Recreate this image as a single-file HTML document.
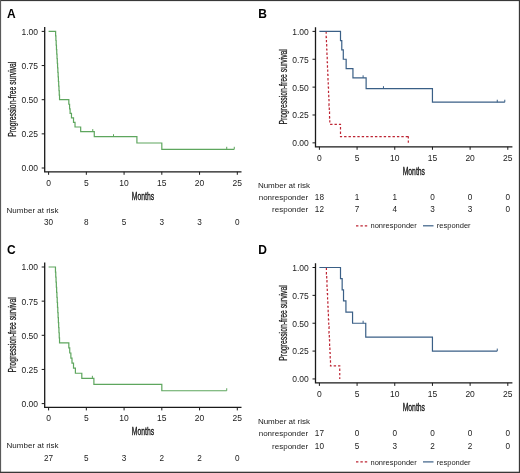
<!DOCTYPE html>
<html><head><meta charset="utf-8"><style>
html,body{margin:0;padding:0;background:#fff;}
body{width:520px;height:473px;overflow:hidden;}
svg{display:block;font-family:"Liberation Sans", sans-serif;will-change:transform;}
</style></head><body>
<svg width="520" height="473" viewBox="0 0 520 473">
<rect x="0" y="0" width="520" height="473" fill="#fff"/>
<text x="6.9" y="17.6" font-size="12" font-weight="bold" fill="#000">A</text>
<path d="M44.7,27 V171.8 H241.5" fill="none" stroke="#1a1a1a" stroke-width="1.3"/>
<line x1="41.7" y1="31.4" x2="44.7" y2="31.4" stroke="#1a1a1a" stroke-width="1"/>
<text x="38" y="34.8" font-size="8.5" text-anchor="end" fill="#222">1.00</text>
<line x1="41.7" y1="65.55" x2="44.7" y2="65.55" stroke="#1a1a1a" stroke-width="1"/>
<text x="38" y="68.95" font-size="8.5" text-anchor="end" fill="#222">0.75</text>
<line x1="41.7" y1="99.7" x2="44.7" y2="99.7" stroke="#1a1a1a" stroke-width="1"/>
<text x="38" y="103.1" font-size="8.5" text-anchor="end" fill="#222">0.50</text>
<line x1="41.7" y1="133.85" x2="44.7" y2="133.85" stroke="#1a1a1a" stroke-width="1"/>
<text x="38" y="137.25" font-size="8.5" text-anchor="end" fill="#222">0.25</text>
<line x1="41.7" y1="168" x2="44.7" y2="168" stroke="#1a1a1a" stroke-width="1"/>
<text x="38" y="171.4" font-size="8.5" text-anchor="end" fill="#222">0.00</text>
<line x1="48.6" y1="171.8" x2="48.6" y2="174.8" stroke="#1a1a1a" stroke-width="1"/>
<text x="48.6" y="185.5" font-size="8.5" text-anchor="middle" fill="#222">0</text>
<line x1="86.34" y1="171.8" x2="86.34" y2="174.8" stroke="#1a1a1a" stroke-width="1"/>
<text x="86.34" y="185.5" font-size="8.5" text-anchor="middle" fill="#222">5</text>
<line x1="124.08" y1="171.8" x2="124.08" y2="174.8" stroke="#1a1a1a" stroke-width="1"/>
<text x="124.08" y="185.5" font-size="8.5" text-anchor="middle" fill="#222">10</text>
<line x1="161.82" y1="171.8" x2="161.82" y2="174.8" stroke="#1a1a1a" stroke-width="1"/>
<text x="161.82" y="185.5" font-size="8.5" text-anchor="middle" fill="#222">15</text>
<line x1="199.56" y1="171.8" x2="199.56" y2="174.8" stroke="#1a1a1a" stroke-width="1"/>
<text x="199.56" y="185.5" font-size="8.5" text-anchor="middle" fill="#222">20</text>
<line x1="237.3" y1="171.8" x2="237.3" y2="174.8" stroke="#1a1a1a" stroke-width="1"/>
<text x="237.3" y="185.5" font-size="8.5" text-anchor="middle" fill="#222">25</text>
<text transform="translate(143,199.8) scale(0.68,1)" font-size="10" text-anchor="middle" fill="#1a1a1a" stroke="#1a1a1a" stroke-width="0.35">Months</text>
<text transform="translate(15.7,99.25) rotate(-90) scale(0.68,1)" font-size="10" text-anchor="middle" fill="#1a1a1a" stroke="#1a1a1a" stroke-width="0.25">Progression-free survival</text>
<path d="M48.6,31.4 H55.62 V35.95 H55.9 V40.51 H56.18 V45.06 H56.46 V49.61 H56.74 V54.17 H57.02 V58.72 H57.3 V63.27 H57.58 V67.83 H57.86 V72.38 H58.14 V76.93 H58.42 V81.49 H58.7 V86.04 H58.98 V90.59 H59.26 V95.15 H59.54 V99.7 H68.83 V104.25 H69.58 V108.81 H70.11 V113.36 H71.47 V117.91 H73.51 V122.47 H75.02 V127.02 H80.68 V131.57 H94.27 V136.72 H136.91 V143 H161.82 V149.29 H234.28" fill="none" stroke="#5ea65e" stroke-width="1.2"/>
<line x1="92.76" y1="131.57" x2="92.76" y2="129.07" stroke="#5ea65e" stroke-width="1"/><line x1="113.51" y1="136.72" x2="113.51" y2="134.22" stroke="#5ea65e" stroke-width="1"/><line x1="226.73" y1="149.29" x2="226.73" y2="146.79" stroke="#5ea65e" stroke-width="1"/><line x1="234.28" y1="149.29" x2="234.28" y2="146.79" stroke="#5ea65e" stroke-width="1"/>
<text x="6.6" y="212.5" font-size="8" fill="#222">Number at risk</text>
<text x="48.6" y="225.3" font-size="8.2" text-anchor="middle" fill="#222">30</text>
<text x="86.34" y="225.3" font-size="8.2" text-anchor="middle" fill="#222">8</text>
<text x="124.08" y="225.3" font-size="8.2" text-anchor="middle" fill="#222">5</text>
<text x="161.82" y="225.3" font-size="8.2" text-anchor="middle" fill="#222">3</text>
<text x="199.56" y="225.3" font-size="8.2" text-anchor="middle" fill="#222">3</text>
<text x="237.3" y="225.3" font-size="8.2" text-anchor="middle" fill="#222">0</text>
<text x="258.3" y="17.5" font-size="12" font-weight="bold" fill="#000">B</text>
<path d="M315.5,27.2 V146.8 H512.4" fill="none" stroke="#1a1a1a" stroke-width="1.3"/>
<line x1="312.5" y1="31.4" x2="315.5" y2="31.4" stroke="#1a1a1a" stroke-width="1"/>
<text x="308.8" y="34.8" font-size="8.5" text-anchor="end" fill="#222">1.00</text>
<line x1="312.5" y1="59.26" x2="315.5" y2="59.26" stroke="#1a1a1a" stroke-width="1"/>
<text x="308.8" y="62.66" font-size="8.5" text-anchor="end" fill="#222">0.75</text>
<line x1="312.5" y1="87.12" x2="315.5" y2="87.12" stroke="#1a1a1a" stroke-width="1"/>
<text x="308.8" y="90.53" font-size="8.5" text-anchor="end" fill="#222">0.50</text>
<line x1="312.5" y1="114.99" x2="315.5" y2="114.99" stroke="#1a1a1a" stroke-width="1"/>
<text x="308.8" y="118.39" font-size="8.5" text-anchor="end" fill="#222">0.25</text>
<line x1="312.5" y1="142.85" x2="315.5" y2="142.85" stroke="#1a1a1a" stroke-width="1"/>
<text x="308.8" y="146.25" font-size="8.5" text-anchor="end" fill="#222">0.00</text>
<line x1="319.4" y1="146.8" x2="319.4" y2="149.8" stroke="#1a1a1a" stroke-width="1"/>
<text x="319.4" y="161" font-size="8.5" text-anchor="middle" fill="#222">0</text>
<line x1="357.08" y1="146.8" x2="357.08" y2="149.8" stroke="#1a1a1a" stroke-width="1"/>
<text x="357.08" y="161" font-size="8.5" text-anchor="middle" fill="#222">5</text>
<line x1="394.76" y1="146.8" x2="394.76" y2="149.8" stroke="#1a1a1a" stroke-width="1"/>
<text x="394.76" y="161" font-size="8.5" text-anchor="middle" fill="#222">10</text>
<line x1="432.44" y1="146.8" x2="432.44" y2="149.8" stroke="#1a1a1a" stroke-width="1"/>
<text x="432.44" y="161" font-size="8.5" text-anchor="middle" fill="#222">15</text>
<line x1="470.12" y1="146.8" x2="470.12" y2="149.8" stroke="#1a1a1a" stroke-width="1"/>
<text x="470.12" y="161" font-size="8.5" text-anchor="middle" fill="#222">20</text>
<line x1="507.8" y1="146.8" x2="507.8" y2="149.8" stroke="#1a1a1a" stroke-width="1"/>
<text x="507.8" y="161" font-size="8.5" text-anchor="middle" fill="#222">25</text>
<text transform="translate(413.8,174.6) scale(0.68,1)" font-size="10" text-anchor="middle" fill="#1a1a1a" stroke="#1a1a1a" stroke-width="0.35">Months</text>
<text transform="translate(286.7,86.85) rotate(-90) scale(0.684,1)" font-size="10" text-anchor="middle" fill="#1a1a1a" stroke="#1a1a1a" stroke-width="0.25">Progression-free survival</text>
<path d="M326.18,31.4 H326.18 V37.59 H326.44 V43.78 H326.7 V49.97 H326.96 V56.17 H327.22 V62.36 H327.47 V68.55 H327.73 V74.74 H327.99 V80.93 H328.25 V87.12 H328.51 V93.32 H328.77 V99.51 H329.02 V105.7 H329.28 V111.89 H329.54 V118.08 H329.8 V124.28 H340.5 V136.66 H408.32" fill="none" stroke="#bd2433" stroke-width="1.2" stroke-dasharray="2.4,2"/>
<line x1="408.32" y1="136.36" x2="408.32" y2="143.16" stroke="#bd2433" stroke-width="1.2" stroke-dasharray="2.2,2"/>
<path d="M319.4,31.4 H340.5 V40.69 H341.78 V49.97 H343.29 V59.26 H346.15 V68.55 H352.94 V77.84 H366.12 V88.69 H432.44 V102.22 H504.79" fill="none" stroke="#3a5f86" stroke-width="1.2"/>
<line x1="363.11" y1="77.84" x2="363.11" y2="75.34" stroke="#3a5f86" stroke-width="1"/><line x1="383.46" y1="88.69" x2="383.46" y2="86.19" stroke="#3a5f86" stroke-width="1"/><line x1="497.25" y1="102.22" x2="497.25" y2="99.72" stroke="#3a5f86" stroke-width="1"/><line x1="504.79" y1="102.22" x2="504.79" y2="99.72" stroke="#3a5f86" stroke-width="1"/>
<text x="257.9" y="187.6" font-size="8" fill="#222">Number at risk</text>
<text x="308.1" y="199.9" font-size="8" text-anchor="end" fill="#222">nonresponder</text>
<text x="319.4" y="199.9" font-size="8.2" text-anchor="middle" fill="#222">18</text>
<text x="357.08" y="199.9" font-size="8.2" text-anchor="middle" fill="#222">1</text>
<text x="394.76" y="199.9" font-size="8.2" text-anchor="middle" fill="#222">1</text>
<text x="432.44" y="199.9" font-size="8.2" text-anchor="middle" fill="#222">0</text>
<text x="470.12" y="199.9" font-size="8.2" text-anchor="middle" fill="#222">0</text>
<text x="507.8" y="199.9" font-size="8.2" text-anchor="middle" fill="#222">0</text>
<text x="308.1" y="212.4" font-size="8" text-anchor="end" fill="#222">responder</text>
<text x="319.4" y="212.4" font-size="8.2" text-anchor="middle" fill="#222">12</text>
<text x="357.08" y="212.4" font-size="8.2" text-anchor="middle" fill="#222">7</text>
<text x="394.76" y="212.4" font-size="8.2" text-anchor="middle" fill="#222">4</text>
<text x="432.44" y="212.4" font-size="8.2" text-anchor="middle" fill="#222">3</text>
<text x="470.12" y="212.4" font-size="8.2" text-anchor="middle" fill="#222">3</text>
<text x="507.8" y="212.4" font-size="8.2" text-anchor="middle" fill="#222">0</text>
<line x1="356" y1="225.8" x2="367.5" y2="225.8" stroke="#bd2433" stroke-width="1.2" stroke-dasharray="2.4,2"/>
<text x="370.5" y="228.4" font-size="7.5" fill="#222">nonresponder</text>
<line x1="423" y1="225.8" x2="433.5" y2="225.8" stroke="#3a5f86" stroke-width="1.2"/>
<text x="436.8" y="228.4" font-size="7.5" fill="#222">responder</text>
<text x="6.9" y="253.9" font-size="12" font-weight="bold" fill="#000">C</text>
<path d="M44.7,262.6 V407.4 H241.5" fill="none" stroke="#1a1a1a" stroke-width="1.3"/>
<line x1="41.7" y1="267" x2="44.7" y2="267" stroke="#1a1a1a" stroke-width="1"/>
<text x="38" y="270.4" font-size="8.5" text-anchor="end" fill="#222">1.00</text>
<line x1="41.7" y1="301.15" x2="44.7" y2="301.15" stroke="#1a1a1a" stroke-width="1"/>
<text x="38" y="304.55" font-size="8.5" text-anchor="end" fill="#222">0.75</text>
<line x1="41.7" y1="335.3" x2="44.7" y2="335.3" stroke="#1a1a1a" stroke-width="1"/>
<text x="38" y="338.7" font-size="8.5" text-anchor="end" fill="#222">0.50</text>
<line x1="41.7" y1="369.45" x2="44.7" y2="369.45" stroke="#1a1a1a" stroke-width="1"/>
<text x="38" y="372.85" font-size="8.5" text-anchor="end" fill="#222">0.25</text>
<line x1="41.7" y1="403.6" x2="44.7" y2="403.6" stroke="#1a1a1a" stroke-width="1"/>
<text x="38" y="407" font-size="8.5" text-anchor="end" fill="#222">0.00</text>
<line x1="48.6" y1="407.4" x2="48.6" y2="410.4" stroke="#1a1a1a" stroke-width="1"/>
<text x="48.6" y="421.1" font-size="8.5" text-anchor="middle" fill="#222">0</text>
<line x1="86.34" y1="407.4" x2="86.34" y2="410.4" stroke="#1a1a1a" stroke-width="1"/>
<text x="86.34" y="421.1" font-size="8.5" text-anchor="middle" fill="#222">5</text>
<line x1="124.08" y1="407.4" x2="124.08" y2="410.4" stroke="#1a1a1a" stroke-width="1"/>
<text x="124.08" y="421.1" font-size="8.5" text-anchor="middle" fill="#222">10</text>
<line x1="161.82" y1="407.4" x2="161.82" y2="410.4" stroke="#1a1a1a" stroke-width="1"/>
<text x="161.82" y="421.1" font-size="8.5" text-anchor="middle" fill="#222">15</text>
<line x1="199.56" y1="407.4" x2="199.56" y2="410.4" stroke="#1a1a1a" stroke-width="1"/>
<text x="199.56" y="421.1" font-size="8.5" text-anchor="middle" fill="#222">20</text>
<line x1="237.3" y1="407.4" x2="237.3" y2="410.4" stroke="#1a1a1a" stroke-width="1"/>
<text x="237.3" y="421.1" font-size="8.5" text-anchor="middle" fill="#222">25</text>
<text transform="translate(143,435.4) scale(0.68,1)" font-size="10" text-anchor="middle" fill="#1a1a1a" stroke="#1a1a1a" stroke-width="0.35">Months</text>
<text transform="translate(15.7,334.85) rotate(-90) scale(0.68,1)" font-size="10" text-anchor="middle" fill="#1a1a1a" stroke="#1a1a1a" stroke-width="0.25">Progression-free survival</text>
<path d="M48.6,267 H55.47 V272.06 H55.76 V277.12 H56.05 V282.18 H56.34 V287.24 H56.63 V292.3 H56.92 V297.36 H57.22 V302.41 H57.51 V307.47 H57.8 V312.53 H58.09 V317.59 H58.38 V322.65 H58.67 V327.71 H58.96 V332.77 H59.25 V337.83 H59.54 V342.89 H68.83 V347.95 H69.73 V353.01 H70.87 V358.07 H72 V363.13 H73.51 V368.19 H75.4 V373.24 H81.81 V378.3 H93.89 V384.34 H161.82 V390.76 H226.73" fill="none" stroke="#5ea65e" stroke-width="1.2"/>
<line x1="92.38" y1="378.3" x2="92.38" y2="375.8" stroke="#5ea65e" stroke-width="1"/><line x1="226.73" y1="390.76" x2="226.73" y2="388.26" stroke="#5ea65e" stroke-width="1"/>
<text x="6.6" y="448.1" font-size="8" fill="#222">Number at risk</text>
<text x="48.6" y="460.9" font-size="8.2" text-anchor="middle" fill="#222">27</text>
<text x="86.34" y="460.9" font-size="8.2" text-anchor="middle" fill="#222">5</text>
<text x="124.08" y="460.9" font-size="8.2" text-anchor="middle" fill="#222">3</text>
<text x="161.82" y="460.9" font-size="8.2" text-anchor="middle" fill="#222">2</text>
<text x="199.56" y="460.9" font-size="8.2" text-anchor="middle" fill="#222">2</text>
<text x="237.3" y="460.9" font-size="8.2" text-anchor="middle" fill="#222">0</text>
<text x="258.3" y="253.6" font-size="12" font-weight="bold" fill="#000">D</text>
<path d="M315.5,263.3 V382.9 H512.4" fill="none" stroke="#1a1a1a" stroke-width="1.3"/>
<line x1="312.5" y1="267.5" x2="315.5" y2="267.5" stroke="#1a1a1a" stroke-width="1"/>
<text x="308.8" y="270.9" font-size="8.5" text-anchor="end" fill="#222">1.00</text>
<line x1="312.5" y1="295.36" x2="315.5" y2="295.36" stroke="#1a1a1a" stroke-width="1"/>
<text x="308.8" y="298.76" font-size="8.5" text-anchor="end" fill="#222">0.75</text>
<line x1="312.5" y1="323.23" x2="315.5" y2="323.23" stroke="#1a1a1a" stroke-width="1"/>
<text x="308.8" y="326.62" font-size="8.5" text-anchor="end" fill="#222">0.50</text>
<line x1="312.5" y1="351.09" x2="315.5" y2="351.09" stroke="#1a1a1a" stroke-width="1"/>
<text x="308.8" y="354.49" font-size="8.5" text-anchor="end" fill="#222">0.25</text>
<line x1="312.5" y1="378.95" x2="315.5" y2="378.95" stroke="#1a1a1a" stroke-width="1"/>
<text x="308.8" y="382.35" font-size="8.5" text-anchor="end" fill="#222">0.00</text>
<line x1="319.4" y1="382.9" x2="319.4" y2="385.9" stroke="#1a1a1a" stroke-width="1"/>
<text x="319.4" y="397.1" font-size="8.5" text-anchor="middle" fill="#222">0</text>
<line x1="357.08" y1="382.9" x2="357.08" y2="385.9" stroke="#1a1a1a" stroke-width="1"/>
<text x="357.08" y="397.1" font-size="8.5" text-anchor="middle" fill="#222">5</text>
<line x1="394.76" y1="382.9" x2="394.76" y2="385.9" stroke="#1a1a1a" stroke-width="1"/>
<text x="394.76" y="397.1" font-size="8.5" text-anchor="middle" fill="#222">10</text>
<line x1="432.44" y1="382.9" x2="432.44" y2="385.9" stroke="#1a1a1a" stroke-width="1"/>
<text x="432.44" y="397.1" font-size="8.5" text-anchor="middle" fill="#222">15</text>
<line x1="470.12" y1="382.9" x2="470.12" y2="385.9" stroke="#1a1a1a" stroke-width="1"/>
<text x="470.12" y="397.1" font-size="8.5" text-anchor="middle" fill="#222">20</text>
<line x1="507.8" y1="382.9" x2="507.8" y2="385.9" stroke="#1a1a1a" stroke-width="1"/>
<text x="507.8" y="397.1" font-size="8.5" text-anchor="middle" fill="#222">25</text>
<text transform="translate(413.8,410.7) scale(0.68,1)" font-size="10" text-anchor="middle" fill="#1a1a1a" stroke="#1a1a1a" stroke-width="0.35">Months</text>
<text transform="translate(286.7,322.95) rotate(-90) scale(0.684,1)" font-size="10" text-anchor="middle" fill="#1a1a1a" stroke="#1a1a1a" stroke-width="0.25">Progression-free survival</text>
<path d="M326.41,267.5 H326.41 V274.06 H326.7 V280.61 H326.99 V287.17 H327.28 V293.72 H327.57 V300.28 H327.86 V306.84 H328.15 V313.39 H328.44 V319.95 H328.73 V326.5 H329.02 V333.06 H329.32 V339.61 H329.61 V346.17 H329.9 V352.73 H330.19 V359.28 H330.48 V365.84 H339.75 V378.95 H339.75" fill="none" stroke="#bd2433" stroke-width="1.2" stroke-dasharray="2.4,2"/>

<path d="M319.4,267.5 H340.5 V278.64 H342.16 V289.79 H343.52 V300.94 H345.93 V312.08 H352.56 V323.23 H365.75 V337.16 H432.44 V351.09 H497.25" fill="none" stroke="#3a5f86" stroke-width="1.2"/>
<line x1="363.11" y1="323.23" x2="363.11" y2="320.73" stroke="#3a5f86" stroke-width="1"/><line x1="497.25" y1="351.09" x2="497.25" y2="348.59" stroke="#3a5f86" stroke-width="1"/>
<text x="257.9" y="423.7" font-size="8" fill="#222">Number at risk</text>
<text x="308.1" y="436" font-size="8" text-anchor="end" fill="#222">nonresponder</text>
<text x="319.4" y="436" font-size="8.2" text-anchor="middle" fill="#222">17</text>
<text x="357.08" y="436" font-size="8.2" text-anchor="middle" fill="#222">0</text>
<text x="394.76" y="436" font-size="8.2" text-anchor="middle" fill="#222">0</text>
<text x="432.44" y="436" font-size="8.2" text-anchor="middle" fill="#222">0</text>
<text x="470.12" y="436" font-size="8.2" text-anchor="middle" fill="#222">0</text>
<text x="507.8" y="436" font-size="8.2" text-anchor="middle" fill="#222">0</text>
<text x="308.1" y="448.5" font-size="8" text-anchor="end" fill="#222">responder</text>
<text x="319.4" y="448.5" font-size="8.2" text-anchor="middle" fill="#222">10</text>
<text x="357.08" y="448.5" font-size="8.2" text-anchor="middle" fill="#222">5</text>
<text x="394.76" y="448.5" font-size="8.2" text-anchor="middle" fill="#222">3</text>
<text x="432.44" y="448.5" font-size="8.2" text-anchor="middle" fill="#222">2</text>
<text x="470.12" y="448.5" font-size="8.2" text-anchor="middle" fill="#222">2</text>
<text x="507.8" y="448.5" font-size="8.2" text-anchor="middle" fill="#222">0</text>
<line x1="356" y1="461.9" x2="367.5" y2="461.9" stroke="#bd2433" stroke-width="1.2" stroke-dasharray="2.4,2"/>
<text x="370.5" y="464.5" font-size="7.5" fill="#222">nonresponder</text>
<line x1="423" y1="461.9" x2="433.5" y2="461.9" stroke="#3a5f86" stroke-width="1.2"/>
<text x="436.8" y="464.5" font-size="7.5" fill="#222">responder</text>
<rect x="0" y="0" width="520" height="1.1" fill="#383838"/>
<rect x="0" y="0" width="1.1" height="473" fill="#5a5a5a"/>
<rect x="518.85" y="0" width="1.15" height="473" fill="#383838"/>
<rect x="0" y="471.7" width="520" height="1.3" fill="#383838"/>
</svg>
</body></html>
